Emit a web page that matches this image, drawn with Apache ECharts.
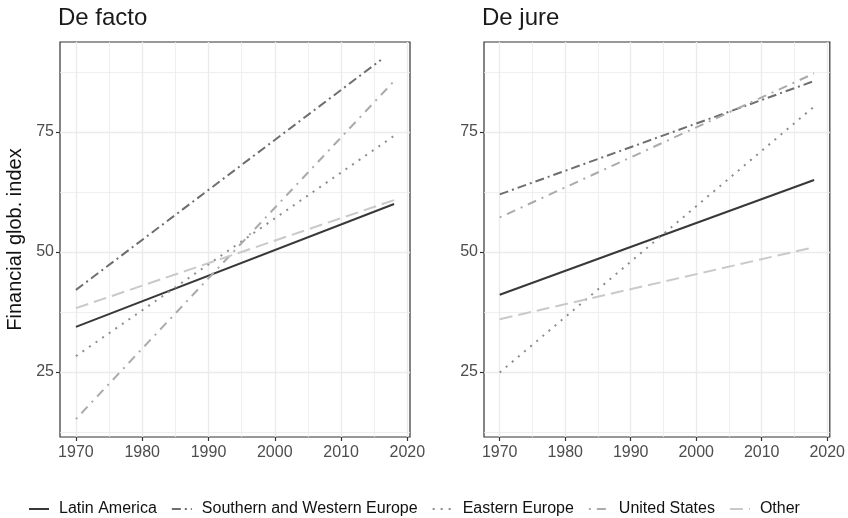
<!DOCTYPE html>
<html>
<head>
<meta charset="utf-8">
<script src="https://cdn.jsdelivr.net/npm/echarts@6/dist/echarts.min.js"></script>
<style>
  html, body { margin: 0; padding: 0; background: #fff; }
  #chart { width: 848px; height: 518px; }
</style>
</head>
<body>
<div id="chart"></div>
<script>
// groups, in legend order
const groups = ['Latin America', 'Southern and Western Europe', 'Eastern Europe', 'United States', 'Other'];

// fitted trend, value at the first and last year of each group
const startYear = [1970, 1970, 1970, 1970, 1970];
const deFactoEndYear = [2018, 2016, 2018, 2018, 2018];
const deJureEndYear = [2018, 2018, 2018, 2018, 2018];
const deFactoStart = [34.4, 42.1, 28.3, 15.2, 38.3];
const deFactoEnd = [60.0, 90.0, 74.2, 85.6, 60.8];
const deJureStart = [41.1, 62.0, 24.9, 57.2, 36.0];
const deJureEnd = [65.0, 85.6, 80.3, 87.2, 51.0];

// axes
const yearTicks = [1970, 1980, 1990, 2000, 2010, 2020];
const yearMinor = [1975, 1985, 1995, 2005, 2015];
const indexTicks = [25, 50, 75];
const indexMinor = [12.5, 37.5, 62.5, 87.5];

const colors = ['#383838', '#6e6e6e', '#8c8c8c', '#ababab', '#c9c9c9'];
const dashes = ['solid', [9, 4, 2, 4], [2, 6], [2, 6, 9, 6], [13, 6]];

const FONT = 'Liberation Sans';
const gridLine = '#ebebeb';

function mainX(gridIndex) {
    return {
        type: 'value', gridIndex: gridIndex, min: 1967.6, max: 2020.4,
        axisLine: { show: false },
        axisTick: { customValues: yearTicks, length: 4, lineStyle: { color: '#333', width: 1.2 } },
        axisLabel: {
            customValues: yearTicks, fontSize: 16, color: '#4d4d4d', fontFamily: FONT, margin: 8,
            formatter: v => String(v)
        },
        splitLine: { show: true, lineStyle: { color: gridLine, width: 1.4 } }
    };
}

function minorX(gridIndex) {
    return {
        type: 'value', gridIndex: gridIndex, min: 1967.6, max: 2020.4, position: 'bottom',
        axisLine: { show: false },
        axisTick: { show: false, customValues: yearMinor },
        axisLabel: { show: false },
        splitLine: { show: true, lineStyle: { color: gridLine, width: 0.8 } }
    };
}

function mainY(gridIndex, name) {
    return {
        type: 'value', gridIndex: gridIndex, min: 11.46, max: 93.74,
        name: name, nameLocation: 'middle', nameGap: 35,
        nameTextStyle: { fontSize: 20, color: '#111', fontFamily: FONT },
        axisLine: { show: false },
        axisTick: { customValues: indexTicks, length: 4, lineStyle: { color: '#333', width: 1.2 } },
        axisLabel: { customValues: indexTicks, fontSize: 16, color: '#4d4d4d', fontFamily: FONT, margin: 6 },
        splitLine: { show: true, lineStyle: { color: gridLine, width: 1.4 } }
    };
}

function minorY(gridIndex) {
    return {
        type: 'value', gridIndex: gridIndex, min: 11.46, max: 93.74, position: 'left',
        axisLine: { show: false },
        axisTick: { show: false, customValues: indexMinor },
        axisLabel: { show: false },
        splitLine: { show: true, lineStyle: { color: gridLine, width: 0.8 } }
    };
}

function makeSeries(axisIndex, starts, ends, endYears) {
    return groups.map((g, i) => ({
        name: g,
        type: 'line',
        xAxisIndex: axisIndex,
        yAxisIndex: axisIndex,
        symbol: 'none',
        silent: true,
        lineStyle: { color: colors[i], width: 2, type: dashes[i], cap: 'butt' },
        itemStyle: { color: colors[i] },
        data: [[startYear[i], starts[i]], [endYears[i], ends[i]]]
    }));
}

const chart = echarts.init(document.getElementById('chart'), null, { renderer: 'canvas' });

const option = {
    animation: false,
    textStyle: { fontFamily: FONT },
    title: [
        { text: 'De facto', left: 58, top: 6, padding: 0, textStyle: { fontSize: 24, fontWeight: 'normal', color: '#1a1a1a', fontFamily: FONT } },
        { text: 'De jure', left: 482, top: 6, padding: 0, textStyle: { fontSize: 24, fontWeight: 'normal', color: '#1a1a1a', fontFamily: FONT } }
    ],
    grid: [
        { left: 60, top: 42, width: 350, height: 395, show: true, borderColor: '#333', borderWidth: 1.2, backgroundColor: '#fff' },
        { left: 484, top: 42, width: 350, height: 395, show: true, borderColor: '#333', borderWidth: 1.2, backgroundColor: '#fff' }
    ],
    // axis 0/1: main axes, 2/3: minor grid lines
    xAxis: [mainX(0), mainX(1), minorX(0), minorX(1)],
    yAxis: [mainY(0, 'Financial glob. index'), mainY(1, ''), minorY(0), minorY(1)],
    legend: {
        data: groups,
        left: 28,
        top: 501,
        padding: 0,
        itemWidth: 20,
        itemHeight: 12,
        itemGap: 14,
        itemStyle: { opacity: 0 },
        textStyle: { fontSize: 16, color: '#111', fontFamily: FONT, padding: [0, 0, 0, 5] }
    },
    series: [].concat(
        makeSeries(0, deFactoStart, deFactoEnd, deFactoEndYear),
        makeSeries(1, deJureStart, deJureEnd, deJureEndYear)
    )
};

chart.setOption(option);
</script>
</body>
</html>
